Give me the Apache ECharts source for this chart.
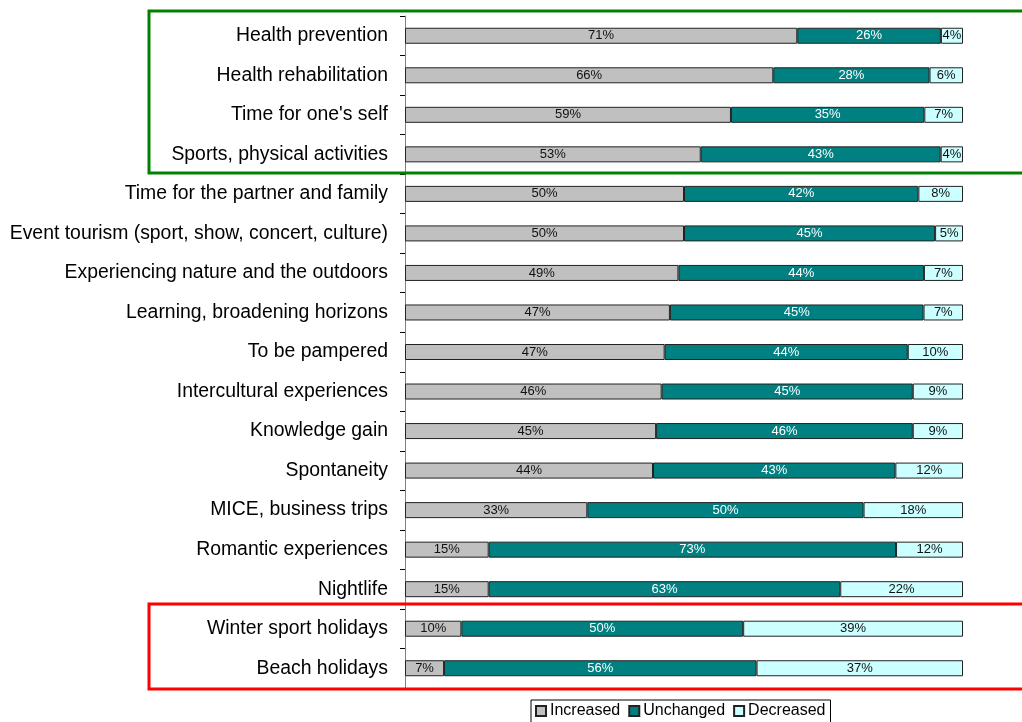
<!DOCTYPE html>
<html>
<head>
<meta charset="utf-8">
<script src="https://cdn.jsdelivr.net/npm/echarts@6/dist/echarts.min.js"></script>
<style>html,body{margin:0;padding:0;background:#fff;}#c{width:1022px;height:722px;}</style>
</head>
<body>
<div id="c"></div>
<script>
var categories = ["Health prevention","Health rehabilitation","Time for one's self","Sports, physical activities","Time for the partner and family","Event tourism (sport, show, concert, culture)","Experiencing nature and the outdoors","Learning, broadening horizons","To be pampered","Intercultural experiences","Knowledge gain","Spontaneity","MICE, business trips","Romantic experiences","Nightlife","Winter sport holidays","Beach holidays"];
var increased = [71,66,59,53,50,50,49,47,47,46,45,44,33,15,15,10,7];
var unchanged = [26,28,35,43,42,45,44,45,44,45,46,43,50,73,63,50,56];
var decreased = [4,6,7,4,8,5,7,7,10,9,9,12,18,12,22,39,37];
var seriesNames = ["Increased","Unchanged","Decreased"];

var totals = categories.map(function(_, i){ return increased[i] + unchanged[i] + decreased[i]; });
function toShares(arr){
  return arr.map(function(v, i){ return { value: v / totals[i] * 100, raw: v }; });
}
var font = "'Liberation Sans', Arial, sans-serif";
var colors = ['#C0C0C0', '#008080', '#CCFFFF'];
var labelColors = ['#111', '#fff', '#111'];
var rawSets = [increased, unchanged, decreased];

var chart = echarts.init(document.getElementById('c'));
chart.setOption({
  animation: false,
  backgroundColor: '#fff',
  textStyle: { fontFamily: font },
  grid: { left: 405, right: 59, top: 16, bottom: 34, containLabel: false },
  legend: {
    data: seriesNames,
    left: 531, top: 700,
    itemWidth: 10, itemHeight: 10, itemGap: 8,
    padding: [3, 5, 10, 4],
    borderColor: '#000', borderWidth: 1,
    icon: 'rect',
    textStyle: { fontFamily: font, fontSize: 16, color: '#000', padding: [0,0,0,-1] }
  },
  xAxis: { type: 'value', min: 0, max: 100, show: false },
  yAxis: {
    type: 'category', data: categories, inverse: true,
    axisLine: { show: true, lineStyle: { color: '#808080', width: 1 } },
    axisTick: { show: true, length: 5, lineStyle: { color: '#000' } },
    axisLabel: { fontFamily: font, fontSize: 19.4, color: '#000', margin: 17 },
    splitLine: { show: false }
  },
  series: seriesNames.map(function(name, k){
    return {
      name: name, type: 'bar', stack: 'total', barWidth: 16,
      data: toShares(rawSets[k]),
      itemStyle: { color: colors[k], borderColor: '#222', borderWidth: 1 },
      label: {
        show: true, position: 'inside',
        fontFamily: font, fontSize: 13, color: labelColors[k],
        formatter: function(p){ return p.data.raw + '%'; }
      }
    };
  }),
  graphic: [
    { type: 'rect', shape: { x: 149, y: 11, width: 1000, height: 162 },
      style: { fill: 'none', stroke: '#008000', lineWidth: 3 }, z: 100 },
    { type: 'rect', shape: { x: 149, y: 604, width: 1000, height: 85 },
      style: { fill: 'none', stroke: '#FF0000', lineWidth: 3 }, z: 100 }
  ]
});
</script>
</body>
</html>
